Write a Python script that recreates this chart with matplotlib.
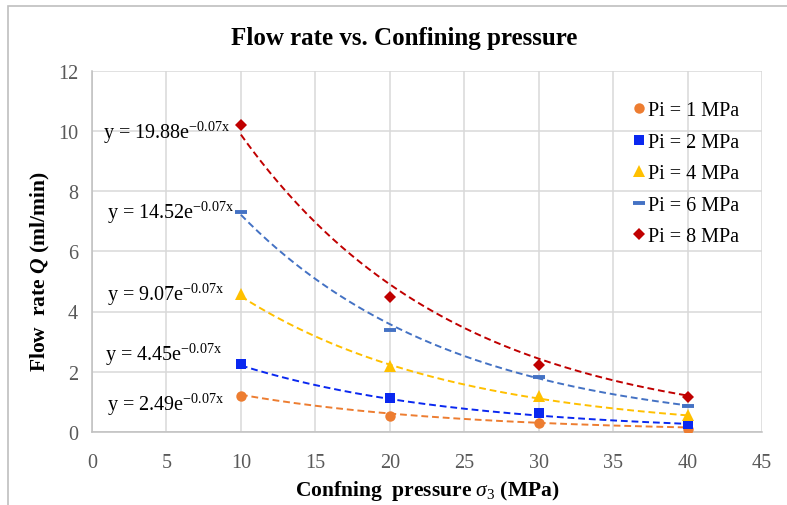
import numpy as np
import matplotlib
matplotlib.use("Agg")
import matplotlib.pyplot as plt
from matplotlib.lines import Line2D
from matplotlib.patches import Rectangle

plt.rcParams['font.family'] = ['Liberation Serif', 'DejaVu Serif']
plt.rcParams['mathtext.fontset'] = 'custom'
plt.rcParams['mathtext.rm'] = 'Liberation Serif'
plt.rcParams['mathtext.it'] = 'Liberation Serif:italic'
plt.rcParams['mathtext.bf'] = 'Liberation Serif:bold'
plt.rcParams['mathtext.bfit'] = 'Liberation Serif:bold:italic'

# ---- data ----
confining = [10, 20, 30, 40]
labels = ["Pi = 1 MPa", "Pi = 2 MPa", "Pi = 4 MPa", "Pi = 6 MPa", "Pi = 8 MPa"]
q_pi1 = [1.18, 0.54, 0.31, 0.10]
q_pi2 = [2.25, 1.12, 0.63, 0.28]
q_pi4 = [4.58, 2.18, 1.21, 0.57]
q_pi6 = [7.31, 3.39, 1.82, 0.87]
q_pi8 = [10.20, 4.49, 2.24, 1.17]
fit_a = [2.49, 4.45, 9.07, 14.52, 19.88]
fit_b = [-0.07, -0.07, -0.07, -0.07, -0.07]
eq_texts = ["y = 2.49e", "y = 4.45e", "y = 9.07e", "y = 14.52e", "y = 19.88e"]
eq_pos = [(1.0, 0.93), (0.9, 2.6), (1.0, 4.58), (1.0, 7.3), (0.75, 9.97)]
xticks = [0, 5, 10, 15, 20, 25, 30, 35, 40, 45]
yticks = [0, 2, 4, 6, 8, 10, 12]

series = [q_pi1, q_pi2, q_pi4, q_pi6, q_pi8]
colors = ['#ED7D31', '#0A28F0', '#FFC000', '#4472C4', '#C00000']
markers = ['o', 's', '^', '_', 'D']
msizes = [7.5, 7, 8, 9, 6.3]

W, H = 787, 506
fig = plt.figure(figsize=(W / 100, H / 100), dpi=100)
ax = fig.add_axes([92 / W, 1 - 433 / H, (762 - 92) / W, (433 - 71.5) / H])

# outer chart border
fig.add_artist(Rectangle((8 / W, -0.1), 1.2, 1 - 7 / H + 0.1, transform=fig.transFigure,
                         fill=False, edgecolor='#BFBFBF', linewidth=1.2))

xs = np.linspace(10, 40, 200)
handles = []
for i, (ys, c, m, ms) in enumerate(zip(series, colors, markers, msizes)):
    ax.plot(xs, fit_a[i] * np.exp(fit_b[i] * xs), linestyle=(0, (3.5, 2)),
            color=c, linewidth=1.4, zorder=2)
    mew = 2.8 if m == '_' else 0
    ax.plot(confining, ys, linestyle='none', marker=m, color=c, markersize=ms,
            markeredgewidth=mew, zorder=3)
    handles.append(Line2D([], [], linestyle='none', marker=m, color=c, markersize=ms,
                          markeredgewidth=mew))
    tx, ty = eq_pos[i]
    ax.text(tx, ty, eq_texts[i] + r'$^{\mathrm{-0.07x}}$', fontsize=14.5,
            va='center', ha='left', color='black', zorder=4)

ax.set_xlim(0, 45)
ax.set_ylim(0, 12)
ax.set_xticks(xticks)
ax.set_yticks(yticks)
ax.grid(True, color='#D9D9D9', linewidth=1.1)
ax.set_axisbelow(True)
for s in ['top', 'right']:
    ax.spines[s].set_visible(False)
for s in ['left', 'bottom']:
    ax.spines[s].set_color('#BFBFBF')
    ax.spines[s].set_linewidth(1.1)
ax.tick_params(length=0, labelsize=14.5, labelcolor='#595959')
ax.tick_params(axis='x', pad=15)
ax.tick_params(axis='y', pad=10)

leg = ax.legend(handles, labels, loc='upper left',
                bbox_to_anchor=((624 - 92) / 670, 1 - (94 - 71.5) / 361.5),
                frameon=False, fontsize=14.5, handlelength=0.7, handletextpad=0.1,
                labelspacing=0.62, borderaxespad=0)

fig.text(404 / W, 1 - 38 / H, 'Flow rate vs. Confining pressure', fontsize=18,
         fontweight='bold', ha='center', va='center')
fig.text(427 / W, 1 - 491 / H, r'Confning  pressure $\mathit{\sigma}_{\mathrm{3}}$ (MPa)',
         fontsize=15.5, fontweight='bold', ha='center', va='center')
fig.text(40 / W, 1 - 272 / H, r'Flow  rate $\mathbfit{Q}$ (ml/min)', fontsize=15.5,
         fontweight='bold', ha='center', va='center', rotation=90)

fig.savefig('out.png', dpi=100)
